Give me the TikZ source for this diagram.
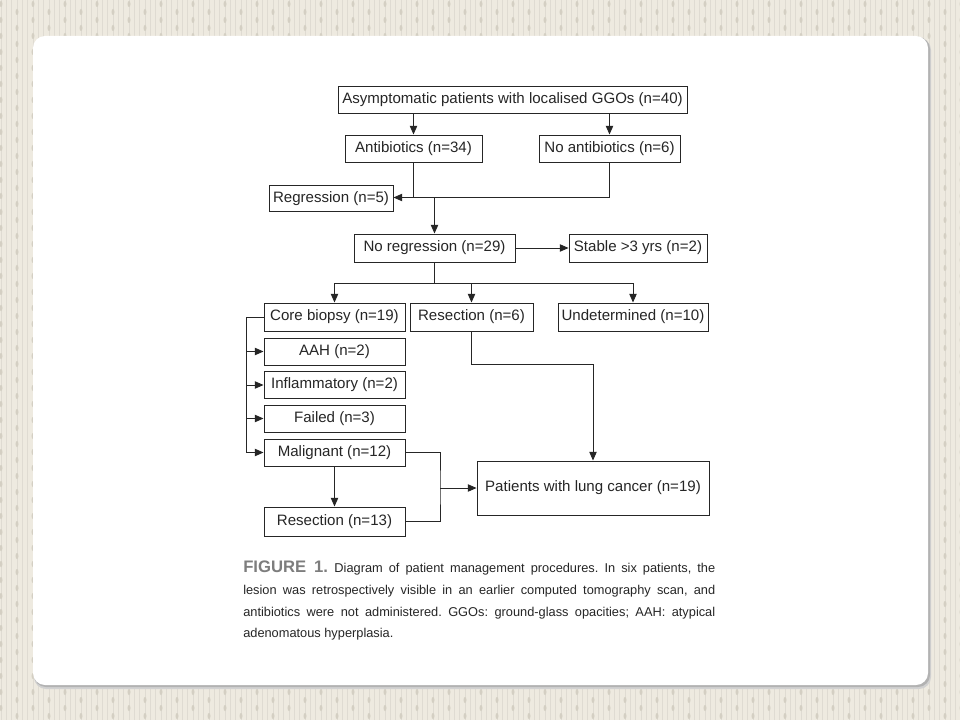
\documentclass[tikz,border=0pt]{standalone}
\usepackage{fontspec}
\setmainfont{Liberation Sans}
\usetikzlibrary{arrows.meta}
\definecolor{paper}{RGB}{238,234,224}
\definecolor{stripe}{RGB}{212,207,195}
\definecolor{ink}{RGB}{38,38,38}
\definecolor{figgray}{RGB}{125,125,125}
\tikzset{
  box/.style={draw=ink, line width=0.7pt, text=ink, inner sep=0pt,
    font=\fontsize{11.3}{13}\selectfont, minimum height=20.25pt},
  arr/.style={-{Triangle[length=6.5pt,width=5.5pt]}},
  link/.style={draw=ink, line width=0.7pt}
}
\begin{document}
\begin{tikzpicture}[x=0.75pt,y=-0.75pt]
                    \useasboundingbox (0,0) rectangle (960,720);
                    % background and panel
                    \fill[paper] (0,0) rectangle (960,720);
                    \foreach \i in {0,...,180}
                    \draw[stripe!75, line width=0.5pt] ({\i*16/3+1},0) -- ({\i*16/3+1},720);
                    \foreach \i in {0,...,60}
                    \foreach \j in {0,...,45}
                    \fill[stripe] ({\i*16+1},{\j*16+mod(\i,2)*8+4}) ellipse [x radius=1.5, y radius=3];
                    \fill[black!18, rounded corners=9pt] (34,38) rectangle (931,689);
                    \fill[black!30, rounded corners=9pt] (34,37) rectangle (930,687);
                    \fill[white, rounded corners=9pt] (33,36) rectangle (928,685);
                    % boxes
                    \node[box, minimum width=261.75pt] (top) at (512.5,99.5) {Asymptomatic patients with localised GGOs (n=40)};
                    \node[box, minimum width=102.75pt] (abx) at (413.5,148.5) {Antibiotics (n=34)};
                    \node[box, minimum width=105.75pt] (noabx) at (609.5,148.5) {No antibiotics (n=6)};
                    \node[box, minimum width=93pt, minimum height=19.5pt] (regr) at (331,198.5) {Regression (n=5)};
                    \node[box, minimum width=120.75pt, minimum height=21pt] (noregr) at (434.5,248) {No regression (n=29)};
                    \node[box, minimum width=103.5pt, minimum height=21pt] (stable) at (638,248) {Stable >3 yrs (n=2)};
                    \node[box, minimum width=105.75pt, minimum height=21pt] (core) at (334.5,317) {Core biopsy (n=19)};
                    \node[box, minimum width=92.25pt, minimum height=21pt] (resec) at (471.5,317) {Resection (n=6)};
                    \node[box, minimum width=112.5pt, minimum height=21pt] (undet) at (633,317) {Undetermined (n=10)};
                    \node[box, minimum width=105.75pt] (aah) at (334.5,351.5) {AAH (n=2)};
                    \node[box, minimum width=105.75pt] (infl) at (334.5,385) {Inflammatory (n=2)};
                    \node[box, minimum width=105.75pt] (failed) at (334.5,418.5) {Failed (n=3)};
                    \node[box, minimum width=105.75pt] (malig) at (334.5,452.5) {Malignant (n=12)};
                    \node[box, minimum width=105.75pt, minimum height=21.75pt] (resecb) at (334.5,521.5) {Resection (n=13)};
                    \node[box, minimum width=174pt, minimum height=40.5pt] (cancer) at (593,488) {Patients with lung cancer (n=19)};
                    % connectors
                    \coordinate (join) at (434.5,197.5);
                    \coordinate (split) at (434.5,283);
                    \coordinate (bracket) at (246,317);
                    \coordinate (merge) at (440,488);
                    \draw[link,arr] (abx.north |- top.south) -- (abx.north);
                    \draw[link,arr] (noabx.north |- top.south) -- (noabx.north);
                    \draw[link] (abx.south) -- (abx.south |- join);
                    \draw[link,arr] (noabx.south) |- (regr.east |- join);
                    \draw[link,arr] (join) -- (noregr.north);
                    \draw[link,arr] (noregr.east) -- (stable.west);
                    \draw[link] (noregr.south) -- (split);
                    \draw[link,arr] (split) -| (core.north);
                    \draw[link,arr] (split) -| (resec.north);
                    \draw[link,arr] (split) -| (undet.north);
                    \draw[link] (core.west) -- (bracket);
                    \draw[link,arr] (bracket) |- (malig.west);
                    \foreach \b in {aah,infl,failed}
                    \draw[link,arr] (bracket |- \b.west) -- (\b.west);
                    \draw[link,arr] (malig.south) -- (resecb.north);
                    \draw[link] (malig.east) -| (merge) |- (resecb.east);
                    \draw[link,arr] (merge) -- (cancer.west);
                    \draw[link,arr] (resec.south) -- ++(0,33) -| (cancer.north);
                    % caption
                    \node[anchor=north west, inner sep=0pt, text width=354pt, align=justify, text=ink,
                      font=\fontsize{9.6}{16.2}\selectfont\frenchspacing] (caption) at (243,561)
                      {{\color{figgray}\fontsize{12.5}{16}\selectfont\bfseries FIGURE 1.}\enspace Diagram of patient management procedures. In six patients, the\linebreak
                      lesion was retrospectively visible in an earlier computed tomography scan, and\linebreak
                      antibiotics were not administered. GGOs: ground-glass opacities; AAH: atypical\linebreak
                      adenomatous hyperplasia.};
                \end{tikzpicture}
\end{document}
